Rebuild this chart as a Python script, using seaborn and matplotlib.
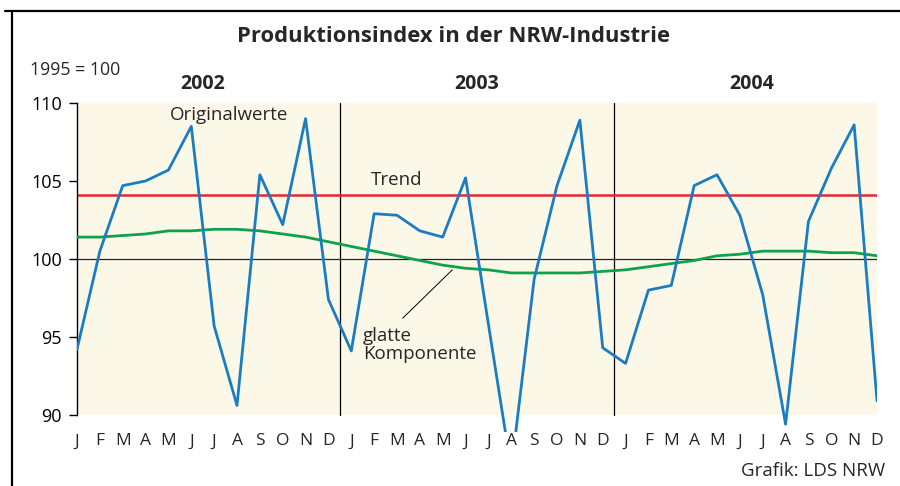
import numpy as np
import pandas as pd
import matplotlib
matplotlib.use("Agg")
import matplotlib.pyplot as plt
import seaborn as sns

# Werte (1995 = 100)
years = ["2002", "2003", "2004"]
month_labels = ["J", "F", "M", "A", "M", "J", "J", "A", "S", "O", "N", "D"]
orig_2002 = [94.2, 100.5, 104.7, 105.0, 105.7, 108.5, 95.7, 90.6, 105.4, 102.2, 109.0, 97.4]
orig_2003 = [94.1, 102.9, 102.8, 101.8, 101.4, 105.2, 95.8, 86.5, 98.7, 104.7, 108.9, 94.3]
orig_2004 = [93.3, 98.0, 98.3, 104.7, 105.4, 102.8, 97.7, 89.4, 102.4, 105.8, 108.6, 90.9]
glatt_2002 = [101.4, 101.4, 101.5, 101.6, 101.8, 101.8, 101.9, 101.9, 101.8, 101.6, 101.4, 101.1]
glatt_2003 = [100.8, 100.5, 100.2, 99.9, 99.6, 99.4, 99.3, 99.1, 99.1, 99.1, 99.1, 99.2]
glatt_2004 = [99.3, 99.5, 99.7, 99.9, 100.2, 100.3, 100.5, 100.5, 100.5, 100.4, 100.4, 100.2]
trend = 104.1

df = pd.DataFrame({
    "t": np.arange(36),
    "orig": orig_2002 + orig_2003 + orig_2004,
    "glatt": glatt_2002 + glatt_2003 + glatt_2004,
})

sns.set_style("white")
plt.rcParams["font.family"] = ["Open Sans", "DejaVu Sans"]

fig = plt.figure(figsize=(9, 4.86), dpi=100)
ax = fig.add_axes([77 / 900, 1 - 432 / 486, 800 / 900, (432 - 103) / 486])

yellow = "#fcf8e8"
blue = "#1a7dc4"
green = "#0ea24c"
red = "#e8262e"

ax.set_xlim(0, 35)
ax.set_ylim(88.9, 110)
ax.axhspan(90, 110, color=yellow, zorder=0, lw=0)

# Jahresgrenzen und 100er-Linie
for b in [11.5, 23.5]:
    ax.plot([b, b], [90, 110], color="black", lw=0.9, zorder=1)
ax.plot([0, 35], [100, 100], color="#222222", lw=0.9, zorder=1)

ax.axhline(trend, color=red, lw=1.8, zorder=2)
sns.lineplot(data=df, x="t", y="glatt", color=green, lw=2.0, ax=ax, zorder=3)
sns.lineplot(data=df, x="t", y="orig", color=blue, lw=2.0, ax=ax, zorder=4)

for s in ["top", "right", "bottom"]:
    ax.spines[s].set_visible(False)
ax.spines["left"].set_bounds(90, 110)
ax.spines["left"].set_color("black")
ax.spines["left"].set_linewidth(1.0)

ax.set_yticks([90, 95, 100, 105, 110])
ax.tick_params(axis="y", length=6, width=1.0, direction="out", pad=5,
               labelsize=13, left=True, colors="black")
ax.set_xticks(np.arange(36))
ax.set_xticklabels(month_labels * 3, fontsize=12.5)
ax.tick_params(axis="x", length=0, pad=1)
ax.set_xlabel("")
ax.set_ylabel("")

# Beschriftungen im Diagramm
ax.text(6.65, 109.2, "Originalwerte", fontsize=13.5, ha="center", va="center")
ax.text(14.0, 105.05, "Trend", fontsize=13.5, ha="center", va="center")
ax.text(12.5, 94.5, "glatte\nKomponente", fontsize=13.5, ha="left", va="center",
        linespacing=1.0)
ax.plot([14.25, 16.42], [96.2, 99.3], color="black", lw=0.7, zorder=5)

# Titel und Kopf
fig.text(454 / 900, 1 - 37 / 486, "Produktionsindex in der NRW-Industrie",
         fontsize=15.8, fontweight="bold", ha="center", va="center")
fig.text(30 / 900, 1 - 70 / 486, "1995 = 100", fontsize=12.8, ha="left", va="center")
for i, y in enumerate(years):
    ax.text(5.5 + 12 * i, 111.2, y, fontsize=14, fontweight="bold",
            ha="center", va="center", clip_on=False)
fig.text(885 / 900, 1 - 471 / 486, "Grafik: LDS NRW", fontsize=13.5,
         ha="right", va="center")

# Rahmen
fig.add_artist(plt.Line2D([12 / 900, 12 / 900], [0, 1 - 11 / 486], color="black",
                          lw=1.6, transform=fig.transFigure))
fig.add_artist(plt.Line2D([5 / 900, 1], [1 - 11 / 486, 1 - 11 / 486], color="black",
                          lw=1.6, transform=fig.transFigure))

fig.savefig("out.png", dpi=100)
